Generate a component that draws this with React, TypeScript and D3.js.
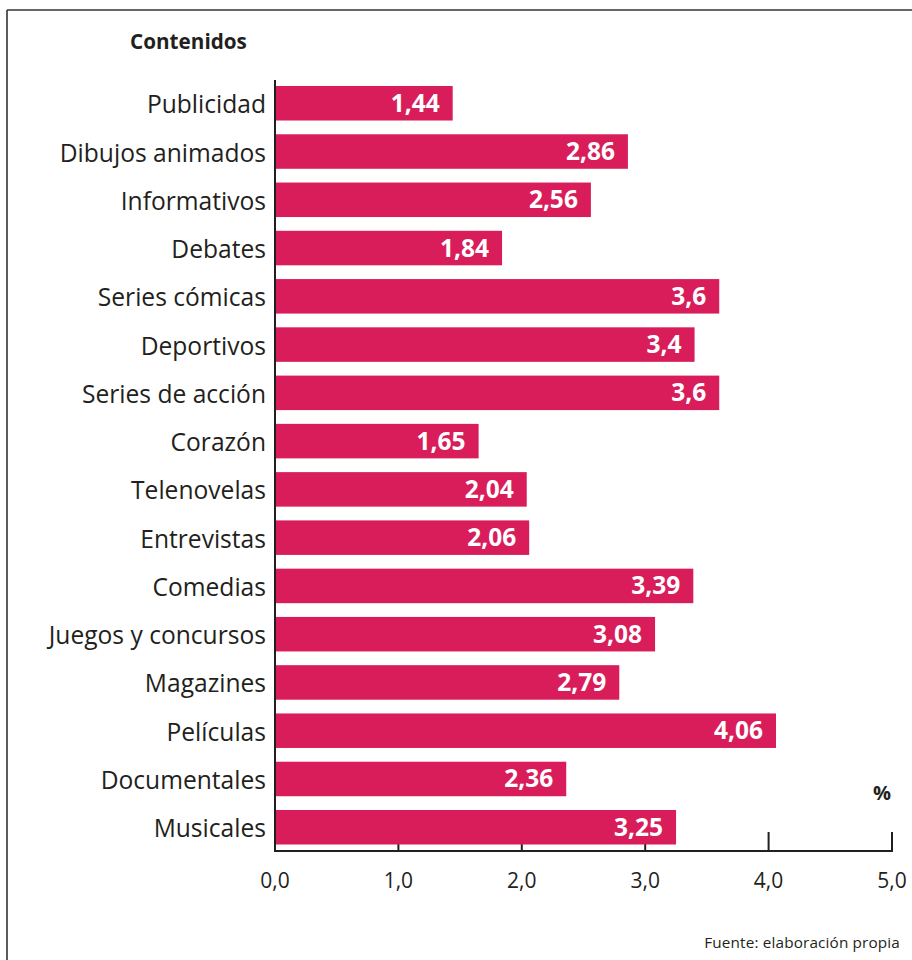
import React from "react";
import * as d3 from "d3";

const categories = [
  "Publicidad",
  "Dibujos animados",
  "Informativos",
  "Debates",
  "Series cómicas",
  "Deportivos",
  "Series de acción",
  "Corazón",
  "Telenovelas",
  "Entrevistas",
  "Comedias",
  "Juegos y concursos",
  "Magazines",
  "Películas",
  "Documentales",
  "Musicales",
];

const values = [1.44, 2.86, 2.56, 1.84, 3.6, 3.4, 3.6, 1.65, 2.04, 2.06, 3.39, 3.08, 2.79, 4.06, 2.36, 3.25];

const valueLabels = ["1,44", "2,86", "2,56", "1,84", "3,6", "3,4", "3,6", "1,65", "2,04", "2,06", "3,39", "3,08", "2,79", "4,06", "2,36", "3,25"];

const tickValues = [0, 1, 2, 3, 4, 5];
const tickLabels = ["0,0", "1,0", "2,0", "3,0", "4,0", "5,0"];

const title = "Contenidos";
const unitLabel = "%";
const source = "Fuente: elaboración propia";

const W = 912;
const H = 960;
const BAR = "#D91D5B";
const INK = "#231F20";
const FONT = "'Open Sans', 'Noto Sans', sans-serif";

export default function App() {
  const x = d3.scaleLinear().domain([0, 5]).range([275, 892]);
  const y = d3
    .scaleBand<string>()
    .domain(categories)
    .range([86, 844.5])
    .paddingInner(0.285)
    .paddingOuter(0);
  const baseY = 851;
  const bw = y.bandwidth();

  return (
    <svg
      width={W}
      height={H}
      style={{ position: "absolute", left: 0, top: 0, background: "#fff" }}
      fontFamily={FONT}
    >
      {/* frame */}
      <line x1={7} y1={10} x2={W} y2={10} stroke="#333" strokeWidth={1.6} />
      <line x1={7} y1={10} x2={7} y2={H} stroke="#333" strokeWidth={1.6} />

      <text x={130} y={49} fontSize={20.7} fontWeight={700} fill={INK}>
        {title}
      </text>

      {/* ticks (behind bars) */}
      {tickValues.slice(1).map((t) => (
        <line key={"t" + t} x1={x(t)} x2={x(t)} y1={baseY} y2={baseY - 19} stroke={INK} strokeWidth={2} />
      ))}

      {/* bars */}
      {categories.map((c, i) => (
        <g key={c}>
          <rect x={x(0)} y={y(c)!} width={x(values[i]) - x(0)} height={bw} fill={BAR} />
          <text
            x={x(values[i]) - 13}
            y={y(c)! + bw / 2 + 8.5}
            textAnchor="end"
            fontSize={24.5}
            fontWeight={700}
            fill="#fff"
          >
            {valueLabels[i]}
          </text>
          <text
            x={266}
            y={y(c)! + bw / 2 + 10}
            textAnchor="end"
            fontSize={24.6}
            fill={INK}
          >
            {c}
          </text>
        </g>
      ))}

      {/* axes */}
      <line x1={x(0)} x2={x(0)} y1={80} y2={baseY + 1} stroke={INK} strokeWidth={2} />
      <line x1={x(0) - 1} x2={x(5) + 1} y1={baseY} y2={baseY} stroke={INK} strokeWidth={2} />

      {tickValues.map((t, i) => (
        <text key={"l" + t} x={x(t)} y={888} textAnchor="middle" fontSize={21} fill={INK}>
          {tickLabels[i]}
        </text>
      ))}

      <text x={882} y={800} textAnchor="middle" fontSize={20} fontWeight={700} fill={INK}>
        {unitLabel}
      </text>

      <text x={900} y={948} textAnchor="end" fontSize={15.3} letterSpacing={0.15} fill={INK}>
        {source}
      </text>
    </svg>
  );
}
